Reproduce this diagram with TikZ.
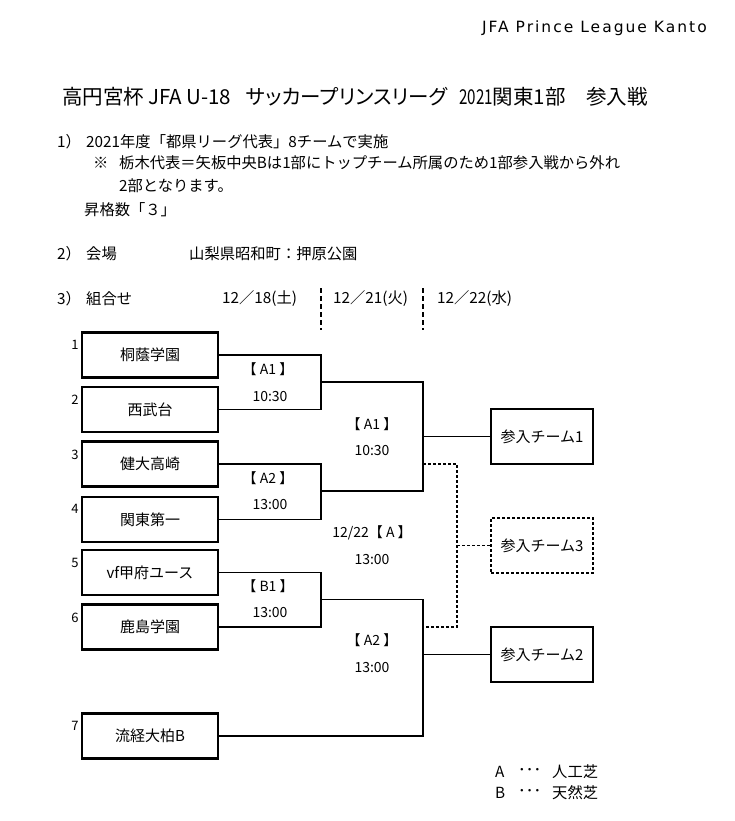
\documentclass[tikz,border=0pt]{standalone}
\usepackage{fontspec}
\setmainfont{Noto Sans CJK JP}
\newfontfamily\hdrfont{DejaVu Sans}[LetterSpace=13]
\begin{document}
\begin{tikzpicture}[x=1pt,y=-1pt,
  team/.style={draw,line width=2.8pt,minimum width=136pt,minimum height=45pt,inner sep=0pt,font=\fontsize{15}{15}\selectfont},
  entry/.style={draw,line width=2pt,minimum width=102pt,minimum height=55pt,inner sep=0pt,font=\fontsize{15}{15}\selectfont},
  entryd/.style={entry,dash pattern=on 3pt off 2pt,line width=1.6pt},
  brk/.style={line width=1.9pt},
  brkd/.style={line width=1.6pt,dash pattern=on 3pt off 2pt},
  txt/.style={anchor=west,inner sep=0pt,font=\fontsize{15.3}{15}\selectfont},
  ttl/.style={anchor=west,inner sep=0pt,font=\fontsize{20.5}{20}\selectfont},
  lbl/.style={inner sep=0pt,font=\fontsize{14}{14}\selectfont},
  num/.style={inner sep=0pt,font=\fontsize{13}{13}\selectfont}]
\path[use as bounding box] (0,0) rectangle (735,821);
% header
\node[anchor=east,inner sep=0pt,font=\hdrfont\fontsize{15.5}{15}\selectfont] (hdr) at (707,28) {JFA Prince League Kanto};
\node[ttl] (title1) at (62,97) {高円宮杯};
\node[ttl] (title2) at (148,97) {JFA U-18};
\node[ttl] (title3) at (246,97) {\addfontfeature{RawFeature=+palt}サッカープリンスリーグ};
\node[ttl] (title4) at (459,97) {\scalebox{0.74}[1]{2021}関東1部};
\node[ttl] (title5) at (586,97) {参入戦};
\node[txt] (l1a) at (57,142) {1）};
\node[txt] (l1b) at (86,142) {2021年度「都県リーグ代表」8チームで実施};
\node[txt] (l2a) at (93,163) {※};
\node[txt] (l2b) at (119,163) {栃木代表＝矢板中央Bは1部にトップチーム所属のため1部参入戦から外れ};
\node[txt] (l3) at (119,186) {2部となります。};
\node[txt] (l4) at (84,210) {昇格数「３」};
\node[txt] (l5a) at (57,254) {2）};
\node[txt] (l5b) at (86,254) {会場};
\node[txt] (l5c) at (189,254) {山梨県昭和町：押原公園};
\node[txt] (l6a) at (57,299) {3）};
\node[txt] (l6b) at (86,299) {組合せ};
\node[txt] (d1) at (222,299) {12／18(土)};
\node[txt] (d2) at (333,299) {12／21(火)};
\node[txt] (d3) at (437,299) {12／22(水)};
\coordinate (s1t) at (321,288); \coordinate (s1b) at (321,330);
\coordinate (s2t) at (423,288); \coordinate (s2b) at (423,330);
\draw[line width=1.8pt,dash pattern=on 5pt off 3pt] (s1t) -- (s1b);
\draw[line width=1.8pt,dash pattern=on 5pt off 3pt] (s2t) -- (s2b);
% team boxes
\node[team] (t1) at (150,355) {桐蔭学園};
\node[team] (t2) at (150,409.5) {西武台};
\node[team] (t3) at (150,464) {健大高崎};
\node[team] (t4) at (150,519.5) {関東第一};
\node[team] (t5) at (150,572.5) {vf甲府ユース};
\node[team] (t6) at (150,627) {鹿島学園};
\node[team] (t7) at (150,736) {流経大柏B};
\node[num] (n1) at (75,345) {1};
\node[num] (n2) at (75,400) {2};
\node[num] (n3) at (75,455) {3};
\node[num] (n4) at (75,509) {4};
\node[num] (n5) at (75,563) {5};
\node[num] (n6) at (75,618) {6};
\node[num] (n7) at (75,726) {7};
% entry boxes
\node[entry] (e1) at (542,436.5) {参入チーム1};
\node[entryd] (e3) at (542,545.5) {参入チーム3};
\node[entry] (e2) at (542,654.5) {参入チーム2};
% round 1 brackets
\coordinate (a1m) at (321,382);
\coordinate (a2m) at (321,491);
\coordinate (b1m) at (321,599.5);
\draw[brk] (t1.east) -| (a1m) |- (t2.east);
\draw[brk] (t3.east) -| (a2m) |- (t4.east);
\draw[brk] (t5.east) -| (b1m) |- (t6.east);
% semifinals
\coordinate (sf1a) at (423,382);
\coordinate (sf1b) at (423,491);
\coordinate (sf1o) at (423,436.5);
\draw[brk] (a1m) -- (sf1a) -- (sf1b) -- (a2m);
\draw[brk] (sf1o) -- (e1.west);
\coordinate (sf2a) at (423,599.5);
\coordinate (sf2b) at (423,736);
\coordinate (sf2o) at (423,654.5);
\draw[brk] (b1m) -- (sf2a) -- (sf2b) -- (t7.east);
\draw[brk] (sf2o) -- (e2.west);
% third place dashed
\coordinate (d3a) at (423,464);
\coordinate (d3b) at (457,464);
\coordinate (d3c) at (457,627);
\coordinate (d3d) at (423,627);
\coordinate (d3m) at (457,545.5);
\draw[brkd] (d3a) -- (d3b) -- (d3c) -- (d3d);
\draw[brkd] (d3m) -- (e3.west);
% labels
\node[lbl] (g1) at (268,369) {【 A1 】};
\node[lbl] (g1t) at (270,397) {10:30};
\node[lbl] (g2) at (268,478) {【 A2 】};
\node[lbl] (g2t) at (270,505) {13:00};
\node[lbl] (g3) at (268,586) {【 B1 】};
\node[lbl] (g3t) at (270,613) {13:00};
\node[lbl] (g4) at (372,424) {【 A1 】};
\node[lbl] (g4t) at (372,451) {10:30};
\node[lbl] (g5) at (372,533) {12/22【 A 】};
\node[lbl] (g5t) at (372,560) {13:00};
\node[lbl] (g6) at (372,640) {【 A2 】};
\node[lbl] (g6t) at (372,668) {13:00};
% legend
\node[txt] (la1) at (495,772) {A};
\node[txt] (la2) at (518,772) {･･･};
\node[txt] (la3) at (552,772) {人工芝};
\node[txt] (lb1) at (495,793) {B};
\node[txt] (lb2) at (518,793) {･･･};
\node[txt] (lb3) at (552,793) {天然芝};
\end{tikzpicture}
\end{document}
